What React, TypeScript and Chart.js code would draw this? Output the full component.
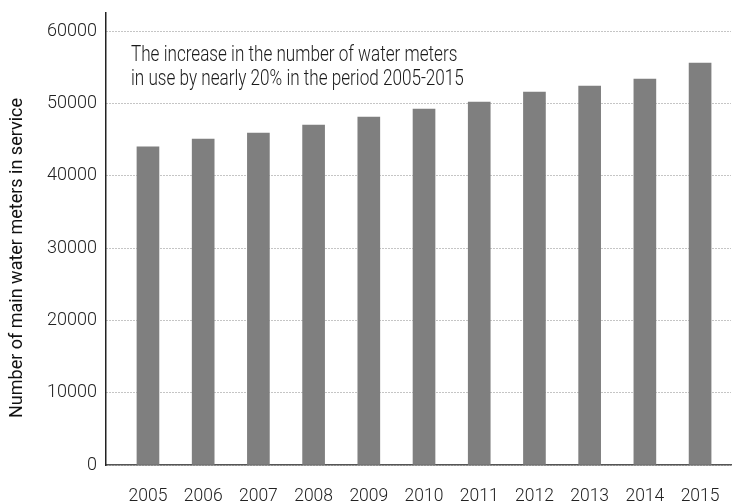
import { useEffect, useRef } from "react";
import { Chart, registerables } from "chart.js";

Chart.register(...registerables);

const years = [2005, 2006, 2007, 2008, 2009, 2010, 2011, 2012, 2013, 2014, 2015];
const meters = [44010, 45070, 45900, 47010, 48110, 49220, 50190, 51570, 52400, 53370, 55580];
const yTickValues = [0, 10000, 20000, 30000, 40000, 50000, 60000];
const yAxisTitle = "Number of main water meters in service";
const noteLines = [
  "The increase in the number of water meters",
  "in use by nearly 20% in the period 2005-2015",
];

const FONT = "Roboto, 'Noto Sans', sans-serif";

const textPlugin = {
  id: "textPlugin",
  afterDraw(chart: any) {
    const { ctx, chartArea } = chart;
    ctx.save();
    ctx.fillStyle = "#111";
    ctx.font = `400 18px ${FONT}`;
    ctx.textAlign = "center";
    ctx.textBaseline = "middle";
    ctx.translate(17, 258);
    ctx.rotate(-Math.PI / 2);
    ctx.fillText(yAxisTitle, 0, 0);
    ctx.restore();

    ctx.save();
    ctx.fillStyle = "#1a1a1a";
    ctx.font = `300 22px ${FONT}`;
    ctx.textAlign = "left";
    ctx.textBaseline = "alphabetic";
    const x0 = chartArea.left + 25;
    ctx.translate(x0, chartArea.top);
    ctx.scale(0.778, 1);
    ctx.fillText(noteLines[0], 0, 48);
    ctx.fillText(noteLines[1], 0, 72);
    ctx.restore();
  },
};

export default function App() {
  const ref = useRef<HTMLCanvasElement | null>(null);

  useEffect(() => {
    document.body.style.margin = "0";
    const canvas = ref.current;
    if (!canvas) return;
    const chart = new Chart(canvas, {
      type: "bar",
      data: {
        datasets: [
          {
            data: years.map((y, i) => ({ x: y, y: meters[i] })),
            backgroundColor: "#7f7f7f",
            borderWidth: 0,
            barThickness: 22,
          },
        ],
      },
      options: {
        animation: false,
        responsive: false,
        layout: { padding: { top: 13, right: 1, left: 0, bottom: 0 } },
        plugins: {
          legend: { display: false },
          tooltip: { enabled: false },
          title: { display: false },
        },
        scales: {
          x: {
            type: "linear",
            min: 2004.24,
            max: 2015.56,
            offset: false,
            grid: { display: false, drawTicks: false },
            border: { display: true, color: "#555", width: 1.5 },
            afterFit(scale: any) {
              scale.height = 39;
              scale.paddingLeft = 0;
              scale.paddingRight = 0;
            },
            ticks: {
              stepSize: 1,
              includeBounds: false,
              autoSkip: false,
              maxRotation: 0,
              padding: 21,
              color: "#222",
              font: { family: FONT, size: 17.5, weight: "300" as any },
              callback: (v: any) => String(v),
            },
          },
          y: {
            min: 0,
            max: 62500,
            grid: { color: "#8a8a8a", lineWidth: 1, drawTicks: false },
            border: { display: true, color: "#222", width: 1.5, dash: [1, 2] },
            afterFit(scale: any) {
              scale.width = 106;
              scale.paddingTop = 0;
              scale.paddingBottom = 0;
            },
            afterBuildTicks(scale: any) {
              scale.ticks = yTickValues.map((v) => ({ value: v }));
            },
            ticks: {
              padding: 9,
              color: "#222",
              font: { family: FONT, size: 18, weight: "300" as any },
              callback: (v: any) => String(v),
            },
          },
        },
      },
      plugins: [textPlugin],
    });
    return () => chart.destroy();
  }, []);

  return (
    <div style={{ position: "fixed", left: 0, top: 0, width: 732, height: 504, background: "#fff" }}>
      <canvas ref={ref} width={732} height={504} style={{ width: 732, height: 504 }} />
    </div>
  );
}
